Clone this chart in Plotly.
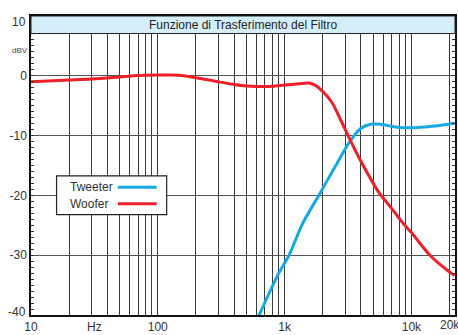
import math
import plotly.graph_objects as go

# ---- data ----
woofer_freq = [10, 20, 30, 50, 70, 100, 130, 160, 200, 300, 400, 500, 600, 700, 800,
               1000, 1300, 1550, 1750, 2000, 2370, 2800, 3200, 4000, 5500, 7000,
               8700, 10000, 14000, 20000, 22000]
woofer_db = [-1.0, -0.72, -0.55, -0.2, 0.05, 0.15, 0.12, 0.0, -0.33, -0.98, -1.45, -1.7,
             -1.8, -1.8, -1.74, -1.55, -1.33, -1.2, -1.6, -2.6, -4.5, -7.6, -10.2,
             -14.3, -19.4, -22.2, -24.8, -26.2, -30.0, -32.8, -33.4]

tweeter_freq = [600, 630, 900, 1085, 1380, 1860, 2520, 3200, 3960, 4750, 5700, 7500,
                10000, 14500, 20000, 22000]
tweeter_db = [-41.0, -40.0, -33.0, -30.0, -24.8, -20.0, -15.1, -11.3, -8.85, -8.1, -8.1,
              -8.55, -8.7, -8.45, -8.05, -7.9]

x_label_vals = [10, 31.6, 100, 1000, 10000]
x_label_text = ["10", "Hz", "100", "1k", "10k"]
x_edge_label_val = 20000
x_edge_label_text = "20k"
x_grid_vals = ([20, 30, 40, 50, 60, 70, 80, 90, 100, 200, 300, 400, 500, 600, 700, 800, 900,
                1000, 2000, 3000, 4000, 5000, 6000, 7000, 8000, 9000, 10000, 20000])
y_label_vals = [0, -10, -20, -30]
y_label_text = ["0", "-10", "-20", "-30"]

title_text = "Funzione di Trasferimento del Filtro"
series_names = ["Tweeter", "Woofer"]
series_colors = ["#16A9E6", "#EE2129"]

FONT = "Liberation Sans, Arial, sans-serif"

fig = go.Figure()
fig.add_trace(go.Scatter(x=tweeter_freq, y=tweeter_db, mode="lines", name=series_names[0],
                         line=dict(color=series_colors[0], width=3, shape="spline", smoothing=0.8),
                         showlegend=False))
fig.add_trace(go.Scatter(x=woofer_freq, y=woofer_db, mode="lines", name=series_names[1],
                         line=dict(color=series_colors[1], width=3, shape="spline", smoothing=0.8),
                         showlegend=False))

shapes = []
# title band
shapes.append(dict(type="rect", xref="paper", yref="y", x0=0, x1=1, y0=7.07, y1=10,
                   fillcolor="#D4EFFA", line=dict(color="#222", width=1), layer="above"))
# legend box
shapes.append(dict(type="rect", xref="paper", yref="paper", x0=0.0603, x1=0.320,
                   y0=0.3354, y1=0.4653, fillcolor="white",
                   line=dict(color="#222", width=1.2), layer="above"))
leg_y = [0.4276, 0.3724]
for i in range(2):
    shapes.append(dict(type="line", xref="paper", yref="paper", x0=0.2049, x1=0.2965,
                       y0=leg_y[i], y1=leg_y[i],
                       line=dict(color=series_colors[i], width=3), layer="above"))

annotations = [
    dict(text=title_text, xref="paper", yref="y", x=0.5, y=8.53, showarrow=False,
         font=dict(family=FONT, size=12, color="#222"), xanchor="center", yanchor="middle"),
    dict(text="dBV", xref="paper", yref="y", x=0, y=4.16, xshift=-1, showarrow=False,
         font=dict(family=FONT, size=8, color="#444"), xanchor="right", yanchor="middle"),
    dict(text="10", xref="paper", yref="y", x=0, y=9.03, xshift=-3, showarrow=False,
         font=dict(family=FONT, size=12, color="#333"), xanchor="right", yanchor="middle"),
    dict(text="-40", xref="paper", yref="y", x=0, y=-39.5, xshift=-3, showarrow=False,
         font=dict(family=FONT, size=12, color="#333"), xanchor="right", yanchor="middle"),
    dict(text=x_edge_label_text, xref="x", yref="paper", x=math.log10(x_edge_label_val), y=0,
         yshift=-1, showarrow=False, xanchor="center", yanchor="top",
         font=dict(family=FONT, size=12, color="#333")),
]
for i in range(2):
    annotations.append(dict(text=series_names[i], xref="paper", yref="paper", x=0.0876,
                            y=leg_y[i], showarrow=False, xanchor="left", yanchor="middle",
                            font=dict(family=FONT, size=12, color="#333")))

fig.update_layout(
    width=458, height=335,
    margin=dict(l=31, r=1, t=16, b=11),
    paper_bgcolor="white", plot_bgcolor="white",
    font=dict(family=FONT, size=12, color="#333"),
    showlegend=False,
    shapes=shapes, annotations=annotations,
    xaxis=dict(type="log", range=[1, 4.344],
               tickmode="array", tickvals=x_label_vals, ticktext=x_label_text,
               showgrid=False, ticks="", ticklabelstandoff=0,
               minor=dict(tickmode="array", tickvals=x_grid_vals, showgrid=True,
                          gridcolor="#3a3a3a", gridwidth=1, ticks=""),
               showline=True, linecolor="#111", linewidth=1.5, mirror=True,
               zeroline=False, tickfont=dict(family=FONT, size=12, color="#333")),
    yaxis=dict(range=[-40, 10], tickmode="array", tickvals=y_label_vals, ticktext=y_label_text,
               showgrid=True, gridcolor="#555", gridwidth=1,
               ticks="inside", ticklen=3, tickcolor="#333",
               minor=dict(tickmode="linear", tick0=0, dtick=1, ticks="inside", ticklen=3,
                          tickcolor="#333", showgrid=False),
               showline=True, linecolor="#111", linewidth=1.5, mirror="ticks",
               zeroline=False, tickfont=dict(family=FONT, size=12, color="#333")),
)

fig.write_html("out.html", config={"displayModeBar": False},
               post_script="document.body.style.margin='0';document.body.style.padding='0';")
